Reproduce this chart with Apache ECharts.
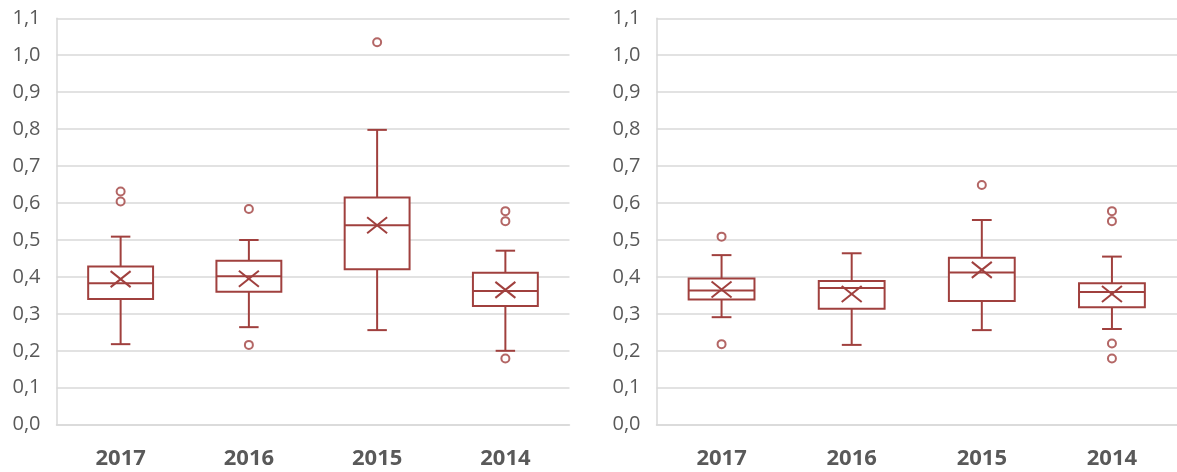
<!DOCTYPE html>
<html>
<head>
<meta charset="utf-8">
<script src="https://cdn.jsdelivr.net/npm/echarts@6/dist/echarts.min.js"></script>
<style>
html,body{margin:0;padding:0;background:#fff;}
#c{width:1177px;height:472px;}
</style>
</head>
<body>
<div id="c"></div>
<script>
// ---- data ----
const categories = ['2017', '2016', '2015', '2014'];
const yTicks = [0, 0.1, 0.2, 0.3, 0.4, 0.5, 0.6, 0.7, 0.8, 0.9, 1.0, 1.1];

// left panel
const leftMin    = [0.218, 0.264, 0.256, 0.200];
const leftQ1     = [0.340, 0.360, 0.421, 0.321];
const leftMedian = [0.383, 0.402, 0.540, 0.362];
const leftQ3     = [0.428, 0.444, 0.615, 0.411];
const leftMax    = [0.509, 0.500, 0.798, 0.471];
const leftMean   = [0.394, 0.395, 0.540, 0.365];
const leftOutliers = [[0, 0.631], [0, 0.604], [1, 0.584], [1, 0.216], [2, 1.035], [3, 0.578], [3, 0.551], [3, 0.179]];

// right panel
const rightMin    = [0.291, 0.216, 0.256, 0.259];
const rightQ1     = [0.339, 0.314, 0.335, 0.318];
const rightMedian = [0.363, 0.370, 0.412, 0.359];
const rightQ3     = [0.396, 0.389, 0.452, 0.383];
const rightMax    = [0.459, 0.464, 0.554, 0.455];
const rightMean   = [0.366, 0.354, 0.419, 0.354];
const rightOutliers = [[0, 0.509], [0, 0.218], [2, 0.649], [3, 0.578], [3, 0.551], [3, 0.220], [3, 0.179]];

// ---- styling ----
const RED = '#A0403E';
const GRID = '#D9D9D9';
const LABEL = '#595959';
const FONT = '"Open Sans", "Liberation Sans", sans-serif';

function rows(mn, q1, md, q3, mx, mean) {
  return categories.map((c, i) => [i, mn[i], q1[i], md[i], q3[i], mx[i], mean[i]]);
}

function renderBox(params, api) {
  const i = api.value(0);
  const pMin = api.coord([i, api.value(1)]);
  const pQ1 = api.coord([i, api.value(2)]);
  const pMed = api.coord([i, api.value(3)]);
  const pQ3 = api.coord([i, api.value(4)]);
  const pMax = api.coord([i, api.value(5)]);
  const pMean = api.coord([i, api.value(6)]);
  const band = api.size([1, 0])[0];
  const cx = pMed[0];
  const hw = band * 0.253;
  const cap = hw * 0.3;
  const st = { stroke: RED, lineWidth: 2, fill: null };
  const line = (x1, y1, x2, y2) => ({ type: 'line', shape: { x1, y1, x2, y2 }, style: st });
  return {
    type: 'group',
    children: [
      line(cx, pMax[1], cx, pQ3[1]),
      line(cx - cap, pMax[1], cx + cap, pMax[1]),
      line(cx, pQ1[1], cx, pMin[1]),
      line(cx - cap, pMin[1], cx + cap, pMin[1]),
      { type: 'rect', shape: { x: cx - hw, y: pQ3[1], width: hw * 2, height: pQ1[1] - pQ3[1] }, style: { stroke: RED, lineWidth: 2, fill: '#fff' } },
      line(cx - hw, pMed[1], cx + hw, pMed[1]),
      line(cx - 10, pMean[1] - 8, cx + 10, pMean[1] + 8),
      line(cx - 10, pMean[1] + 8, cx + 10, pMean[1] - 8)
    ]
  };
}

const chart = echarts.init(document.getElementById('c'), null, { renderer: 'canvas' });

function xAxis(gi) {
  return {
    gridIndex: gi, type: 'category', data: categories,
    axisLine: { show: true, lineStyle: { color: GRID, width: 1.5 } },
    axisTick: { show: false },
    axisLabel: { color: LABEL, fontFamily: FONT, fontSize: 22, fontWeight: 'bold', margin: 23 },
    splitLine: { show: false }
  };
}
function yAxis(gi) {
  return {
    gridIndex: gi, type: 'value', min: 0, max: 1.1, interval: 0.1,
    axisLine: { show: true, lineStyle: { color: GRID, width: 1.5 } },
    axisTick: { show: false },
    axisLabel: { color: LABEL, fontFamily: FONT, fontSize: 20, margin: 16,
      formatter: v => v.toFixed(1).replace('.', ',') },
    splitLine: { show: true, lineStyle: { color: GRID, width: 1.5 } }
  };
}

chart.setOption({
  animation: false,
  backgroundColor: '#fff',
  grid: [
    { left: 56.5, top: 18.3, width: 513, height: 406.4 },
    { left: 656.5, top: 18.3, width: 526, height: 406.4 }
  ],
  xAxis: [xAxis(0), xAxis(1)],
  yAxis: [yAxis(0), yAxis(1)],
  series: [
    { type: 'custom', xAxisIndex: 0, yAxisIndex: 0, renderItem: renderBox,
      encode: { x: 0, y: [1, 2, 3, 4, 5, 6] },
      data: rows(leftMin, leftQ1, leftMedian, leftQ3, leftMax, leftMean), z: 3 },
    { type: 'scatter', xAxisIndex: 0, yAxisIndex: 0, symbol: 'circle', symbolSize: 8,
      itemStyle: { color: '#fff', borderColor: RED, borderWidth: 2 }, data: leftOutliers, z: 4 },
    { type: 'custom', xAxisIndex: 1, yAxisIndex: 1, renderItem: renderBox,
      encode: { x: 0, y: [1, 2, 3, 4, 5, 6] },
      data: rows(rightMin, rightQ1, rightMedian, rightQ3, rightMax, rightMean), z: 3 },
    { type: 'scatter', xAxisIndex: 1, yAxisIndex: 1, symbol: 'circle', symbolSize: 8,
      itemStyle: { color: '#fff', borderColor: RED, borderWidth: 2 }, data: rightOutliers, z: 4 }
  ]
});
</script>
</body>
</html>
